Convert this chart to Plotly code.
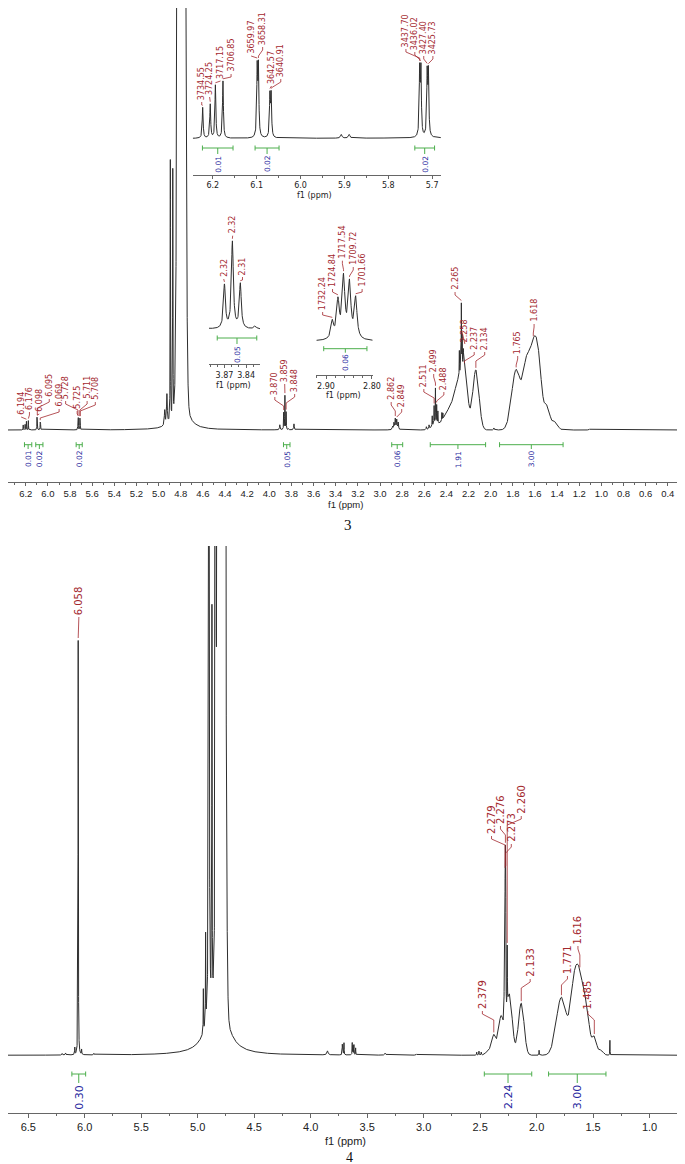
import numpy as np
import plotly.graph_objects as go

W, H = 685, 1164

# ======================= DATA =======================
# ---- compound 3: sharp (Lorentzian) lines: ppm, height, half-width ----
c3_line_ppm = [6.2230, 6.2058, 6.1940, 6.1768, 6.0987, 6.0959, 6.0697, 6.0669,
               5.9070, 5.8890, 5.7283, 5.7255, 5.7112, 5.7084,
               4.945, 4.925, 4.894, 4.872,
               3.905, 3.870, 3.859, 3.848, 3.8275, 3.777,
               2.8864, 2.8741, 2.8619, 2.8489, 2.8355,
               2.581, 2.557, 2.528, 2.511, 2.499, 2.488, 2.477, 2.441, 2.432,
               2.283, 2.272, 2.265, 2.258, 2.247, 1.971, 1.108]
c3_line_h = [5.0, 5.5, 8.6, 9.3, 11.0, 11.0, 6.7, 6.7,
             0.6, 0.6, 10.5, 10.5, 10.1, 10.1,
             15, 30, 262, 249,
             5, 17, 34, 17.5, 1.2, 6,
             3.0, 6.5, 10.6, 9.6, 7.1,
             3, 4, 10, 18, 35, 18, 12, 8, 6,
             25, 30, 65, 30, 15, 2, 1]
c3_line_w = [0.0012] * 8 + [0.002, 0.002] + [0.0012] * 4 + \
            [0.004, 0.004, 0.0015, 0.0015] + \
            [0.003, 0.0016, 0.0016, 0.0016, 0.002, 0.003] + [0.0035] * 5 + \
            [0.003, 0.003] + [0.0015] * 7 + [0.0015] * 5 + [0.003, 0.004]
# ---- compound 3: broad (Gaussian) components: ppm, height, sigma ----
c3_band_ppm = [4.794, 2.50, 2.43, 2.36, 2.295, 2.237, 2.134, 1.77, 1.68, 1.615, 1.565, 1.49, 1.42]
c3_band_h = [4000, 6, 6, 22, 38, 58, 60, 60, 55, 74, 50, 22, 8]
c3_band_s = [0.0189, 0.03, 0.03, 0.04, 0.03, 0.028, 0.028, 0.04, 0.03, 0.035, 0.03, 0.025, 0.025]
# ---- compound 3: broad Lorentzian foot (water) ----
c3_foot_ppm = [4.79]
c3_foot_h = [50]
c3_foot_w = [0.045]

# ---- compound 4 ----
c4_line_ppm = [6.200, 6.170, 6.088, 6.058, 6.028, 5.920,
               4.950, 4.930, 4.901, 4.874, 4.842,
               3.851, 3.720, 3.715, 3.705, 3.632, 3.625, 3.617, 3.602,
               3.340, 3.063, 2.530, 2.510, 2.490,
               2.286, 2.279, 2.276, 2.273, 2.260, 1.978, 1.351]
c4_line_h = [1.5, 2, 7, 415, 5, 1.5,
             43, 89, 3000, 390, 3000,
             4, 10, 8, 12, 12, 9, 10, 7,
             2, 1, 3, 4, 3,
             70, 120, 130, 120, 60, 5, 15]
c4_line_w = [0.003, 0.003, 0.0015, 0.0015, 0.0015, 0.003] + [0.0015] * 5 + \
            [0.006] + [0.0015] * 7 + [0.005, 0.005] + [0.002] * 3 + \
            [0.0015] * 5 + [0.0015, 0.0012]
c4_band_ppm = [4.79, 2.42, 2.377, 2.315, 2.241, 2.136, 1.78, 1.672, 1.617, 1.555, 1.489, 1.43]
c4_band_h = [5000, 5, 19, 38, 60, 52, 58, 55, 74, 35, 18, 5]
c4_band_s = [0.018, 0.025, 0.018, 0.022, 0.025, 0.025, 0.045, 0.03, 0.035, 0.025, 0.02, 0.02]
c4_foot_ppm = [4.79, 4.86]
c4_foot_h = [40, 30]
c4_foot_w = [0.07, 0.08]

# ---- peak labels: text, label position (ppm), label base (px above baseline), peak (ppm) ----
m3_lab_txt = ['6.194', '6.176', '6.098', '6.095', '6.069', '5.728', '5.725', '5.711', '5.708',
              '3.870', '3.859', '3.848', '2.862', '2.849', '2.511', '2.499', '2.488',
              '2.265', '2.258', '2.237', '2.134', '1.765', '1.618']
m3_lab_pos = [6.242, 6.167, 6.078, 5.988, 5.899, 5.840, 5.736, 5.646, 5.572,
              3.950, 3.861, 3.771, 2.899, 2.804, 2.604, 2.515, 2.423,
              2.322, 2.233, 2.149, 2.054, 1.756, 1.608]
m3_lab_base = [14, 19, 17, 32, 22, 30, 20, 30, 29, 34, 47, 37, 29, 22, 42, 57, 39,
               139, 87, 79, 79, 75, 107]
m3_lab_peak = [6.1940, 6.1768, 6.0987, 6.0959, 6.0697, 5.7283, 5.7255, 5.7112, 5.7084,
               3.870, 3.859, 3.848, 2.8619, 2.8489, 2.511, 2.499, 2.488,
               2.265, 2.258, 2.237, 2.134, 1.77, 1.615]

i1_lab_txt = ['3734.55', '3724.25', '3717.15', '3706.85', '3659.97', '3658.31', '3642.57', '3640.91',
              '3437.70', '3436.02', '3427.40', '3425.73']
i1_lab_pos = [6.2252, 6.2072, 6.1824, 6.1583, 6.1126, 6.0863, 6.0660, 6.0450,
              5.7597, 5.7394, 5.7191, 5.6982]
i1_lab_base = [37.7, 42.7, 58.7, 65.7, 83.7, 92.7, 53.7, 60.7, 90.7, 87.7, 83.7, 83.7]
i1_lab_peak = [6.2230, 6.2058, 6.1940, 6.1768, 6.0987, 6.0959, 6.0697, 6.0669,
               5.7283, 5.7255, 5.7112, 5.7084]

i2_lab_txt = ['2.32', '2.32', '2.31']
i2_lab_pos = [3.871, 3.8586, 3.845]
i2_lab_base = [51.7, 95, 53.7]
i2_lab_peak = [3.870, 3.859, 3.848]

i3_lab_txt = ['1732.24', '1724.84', '1717.54', '1709.72', '1701.66']
i3_lab_pos = [2.9073, 2.8858, 2.8644, 2.8408, 2.8215]
i3_lab_base = [30.3, 53.3, 81.6, 75.3, 53.3]
i3_lab_peak = [2.8864, 2.8741, 2.8619, 2.8489, 2.8355]

m4_lab_txt = ['6.058', '2.379', '2.279', '2.276', '2.273', '2.260', '2.133', '1.771', '1.616', '1.485']
m4_lab_pos = [6.052, 2.480, 2.399, 2.320, 2.224, 2.136, 2.057, 1.727, 1.634, 1.546]
m4_lab_base = [439.3, 45.3, 220.3, 230.3, 212.3, 240.3, 77.3, 80.3, 110.3, 45.3]
m4_lab_peak = [6.058, 2.379, 2.279, 2.276, 2.273, 2.260, 2.136, 1.78, 1.617, 1.489]

# ---- integrals: from, to (ppm), value ----
m3_int_from = [6.212, 6.110, 5.745, 3.872, 2.894, 2.546, 1.920]
m3_int_to = [6.146, 6.045, 5.690, 3.813, 2.795, 2.046, 1.346]
m3_int_val = ['0.01', '0.02', '0.02', '0.05', '0.06', '1.91', '3.00']
i1_int_from = [6.2236, 6.1036, 5.7394]
i1_int_to = [6.1538, 6.0489, 5.6944]
i1_int_val = ['0.01', '0.02', '0.02']
i2_int_from = [3.880]
i2_int_to = [3.8252]
i2_int_val = ['0.05']
i3_int_from = [2.905]
i3_int_to = [2.811]
i3_int_val = ['0.06']
m4_int_from = [6.114, 2.463, 1.894]
m4_int_to = [5.992, 2.043, 1.386]
m4_int_val = ['0.30', '2.24', '3.00']

# ======================= MODEL =======================
def spectrum(x, lp, lh, lw, bp, bh, bs, fp, fh, fw):
    x = np.asarray(x, dtype=float)
    y = np.zeros_like(x)
    for p, h, w in zip(lp, lh, lw):
        y += h / (1.0 + ((x - p) / w) ** 2)
    for p, h, s in zip(bp, bh, bs):
        y += h * np.exp(-0.5 * ((x - p) / s) ** 2)
    for p, h, w in zip(fp, fh, fw):
        y += h / (1.0 + ((x - p) / w) ** 2)
    return y

c3 = (c3_line_ppm, c3_line_h, c3_line_w, c3_band_ppm, c3_band_h, c3_band_s, c3_foot_ppm, c3_foot_h, c3_foot_w)
c4 = (c4_line_ppm, c4_line_h, c4_line_w, c4_band_ppm, c4_band_h, c4_band_s, c4_foot_ppm, c4_foot_h, c4_foot_w)

# ======================= PANELS (layout in pixels) =======================
panels = {
    'm3': dict(xa='x', ya='y', xr=[6.3607, 0.2446], xpx=[0, W], axis=474, base=422, top=0, mag=1.0, spec=c3),
    'm4': dict(xa='x2', ya='y2', xr=[6.6794, 0.6863], xpx=[0, W], axis=1105, base=1047.3, top=538, mag=1.0, spec=c4),
    'i1': dict(xa='x3', ya='y3', xr=[6.2455, 5.680], xpx=[187, 438], axis=166.7, base=130.7, top=0, mag=6.15, spec=c3),
    'i2': dict(xa='x4', ya='y4', xr=[3.8915, 3.8207], xpx=[203.3, 255], axis=356, base=321.7, top=190, mag=2.55, spec=c3),
    'i3': dict(xa='x5', ya='y5', xr=[2.921, 2.7985], xpx=[312, 369], axis=367, base=333.3, top=200, mag=5.7, spec=c3),
}

RED = '#a3282e'
GREEN = '#4cae4c'
BLUE = '#2a2aa0'
INK = '#2e2e2e'

fig = go.Figure()
annotations = []

def add_spectrum(pn, step=0.00025):
    P = panels[pn]
    lo, hi = min(P['xr']), max(P['xr'])
    x = np.arange(lo, hi + step, step)
    y = spectrum(x, *P['spec'])
    fig.add_trace(go.Scatter(x=np.round(x, 5), y=np.round(y, 3), mode='lines',
                             line=dict(color=INK, width=1), xaxis=P['xa'], yaxis=P['ya'],
                             hoverinfo='skip', showlegend=False))

def add_labels(pn, txt, pos, base, peak, size, family='DejaVu Sans'):
    P = panels[pn]
    mag = P['mag']
    lx, ly = [], []
    for t, p, b, k in zip(txt, pos, base, peak):
        top = float(spectrum([k], *P['spec'])[0]) * mag  # px above baseline
        a = b - 1
        s = a - 3
        end = top + 2
        pts = [(p, a)]
        if end >= s:
            pts.append((k, max(end, a - 6) if end < a else end))
        else:
            pts.append((p, s))
            c = max(end, s - 6)
            pts.append((k, c))
            if end < c:
                pts.append((k, end))
        for (px_, py_) in pts:
            lx.append(px_)
            ly.append(py_ / mag)
        lx.append(None)
        ly.append(None)
        annotations.append(dict(x=p, y=b / mag, xref=P['xa'], yref=P['ya'], text=t, textangle=-90,
                                showarrow=False, xanchor='center', yanchor='bottom', borderpad=0,
                                font=dict(family=family, size=size, color=RED)))
    fig.add_trace(go.Scatter(x=lx, y=ly, mode='lines', line=dict(color=RED, width=0.8),
                             xaxis=P['xa'], yaxis=P['ya'], hoverinfo='skip', showlegend=False))

def add_integrals(pn, fr, to, val, bar_off, tick_len, size, family='DejaVu Sans'):
    P = panels[pn]
    mag = P['mag']
    gx, gy = [], []
    yb = -bar_off / mag
    cap = 2.5 / mag
    for f, t, v in zip(fr, to, val):
        c = 0.5 * (f + t)
        gx += [f, f, None, f, t, None, t, t, None, c, c, None]
        gy += [yb + cap, yb - cap, None, yb, yb, None, yb + cap, yb - cap, None, yb, yb - tick_len / mag, None]
        annotations.append(dict(x=c, y=yb - (tick_len + 0.5) / mag, xref=P['xa'], yref=P['ya'], text=v,
                                textangle=-90, showarrow=False, xanchor='center', yanchor='top',
                                borderpad=0, font=dict(family=family, size=size, color=BLUE)))
    fig.add_trace(go.Scatter(x=gx, y=gy, mode='lines', line=dict(color=GREEN, width=1),
                             xaxis=P['xa'], yaxis=P['ya'], hoverinfo='skip', showlegend=False))

for pn in ['m3', 'm4', 'i1', 'i2', 'i3']:
    add_spectrum(pn)

add_labels('m3', m3_lab_txt, m3_lab_pos, m3_lab_base, m3_lab_peak, 8)
add_labels('i1', i1_lab_txt, i1_lab_pos, i1_lab_base, i1_lab_peak, 8)
add_labels('i2', i2_lab_txt, i2_lab_pos, i2_lab_base, i2_lab_peak, 8)
add_labels('i3', i3_lab_txt, i3_lab_pos, i3_lab_base, i3_lab_peak, 8)
add_labels('m4', m4_lab_txt, m4_lab_pos, m4_lab_base, m4_lab_peak, 10)

add_integrals('m3', m3_int_from, m3_int_to, m3_int_val, 14.7, 4.3, 7.5)
add_integrals('i1', i1_int_from, i1_int_to, i1_int_val, 9.3, 6, 7.5)
add_integrals('i2', i2_int_from, i2_int_to, i2_int_val, 8.3, 6, 7.5)
add_integrals('i3', i3_int_from, i3_int_to, i3_int_val, 7.4, 4, 7.5)
add_integrals('m4', m4_int_from, m4_int_to, m4_int_val, 18.7, 9, 11)

# ======================= AXES =======================
NARROW = 'Liberation Sans Narrow, Arial Narrow, Liberation Sans, sans-serif'

def xaxis_cfg(P, dtick, tick0, minor, fmt, size, family, ticklen=4):
    return dict(domain=[P['xpx'][0] / W, P['xpx'][1] / W], range=P['xr'], anchor=P['ya'],
                tickmode='linear', tick0=tick0, dtick=dtick, tickformat=fmt,
                ticks='outside', ticklen=ticklen, tickwidth=1, tickcolor='#666666',
                showline=True, linecolor='#666666', linewidth=1, showgrid=False, zeroline=False,
                tickfont=dict(family=family, size=size, color='#222222'),
                minor=dict(dtick=minor, tick0=tick0, ticks='outside', ticklen=2, tickcolor='#666666', showgrid=False),
                fixedrange=True)

def yaxis_cfg(P):
    mag = P['mag']
    return dict(domain=[1 - P['axis'] / H, 1 - P['top'] / H],
                range=[-(P['axis'] - P['base']) / mag, (P['base'] - P['top']) / mag],
                visible=False, fixedrange=True)

layout = dict(width=W, height=H, margin=dict(l=0, r=0, t=0, b=0),
              paper_bgcolor='white', plot_bgcolor='rgba(0,0,0,0)', showlegend=False, hovermode=False)
layout['xaxis'] = xaxis_cfg(panels['m3'], 0.2, 0.0, 0.1, '.1f', 9.5, NARROW, ticklen=3)
layout['yaxis'] = yaxis_cfg(panels['m3'])
layout['xaxis2'] = xaxis_cfg(panels['m4'], 0.5, 0.0, 0.25, '.1f', 11, NARROW, ticklen=4)
layout['yaxis2'] = yaxis_cfg(panels['m4'])
layout['xaxis3'] = xaxis_cfg(panels['i1'], 0.1, 5.7, 0.05, '.1f', 8, 'DejaVu Sans', ticklen=3)
layout['yaxis3'] = yaxis_cfg(panels['i1'])
layout['xaxis4'] = xaxis_cfg(panels['i2'], 0.03, 3.84, 0.01, '.2f', 8, 'DejaVu Sans', ticklen=3)
layout['yaxis4'] = yaxis_cfg(panels['i2'])
layout['xaxis5'] = xaxis_cfg(panels['i3'], 0.1, 2.8, 0.02, '.2f', 8, 'DejaVu Sans', ticklen=3)
layout['yaxis5'] = yaxis_cfg(panels['i3'])

def paper_text(txt, xpx, ypx, size, family, color='#222222'):
    annotations.append(dict(x=xpx / W, y=1 - ypx / H, xref='paper', yref='paper', text=txt,
                            showarrow=False, xanchor='center', yanchor='middle', borderpad=0,
                            font=dict(family=family, size=size, color=color)))

paper_text('f1 (ppm)', 341, 496, 9.5, NARROW)
paper_text('f1 (ppm)', 341, 1133, 11, NARROW)
paper_text('f1 (ppm)', 310, 188, 8, 'DejaVu Sans')
paper_text('f1 (ppm)', 228.3, 378, 8, 'DejaVu Sans')
paper_text('f1 (ppm)', 339, 388, 8, 'DejaVu Sans')
paper_text('3', 344, 517, 15, 'Liberation Serif', '#111111')
paper_text('4', 346, 1149, 14, 'Liberation Serif', '#111111')

layout['annotations'] = annotations
fig.update_layout(**layout)
fig.write_html('out.html')
